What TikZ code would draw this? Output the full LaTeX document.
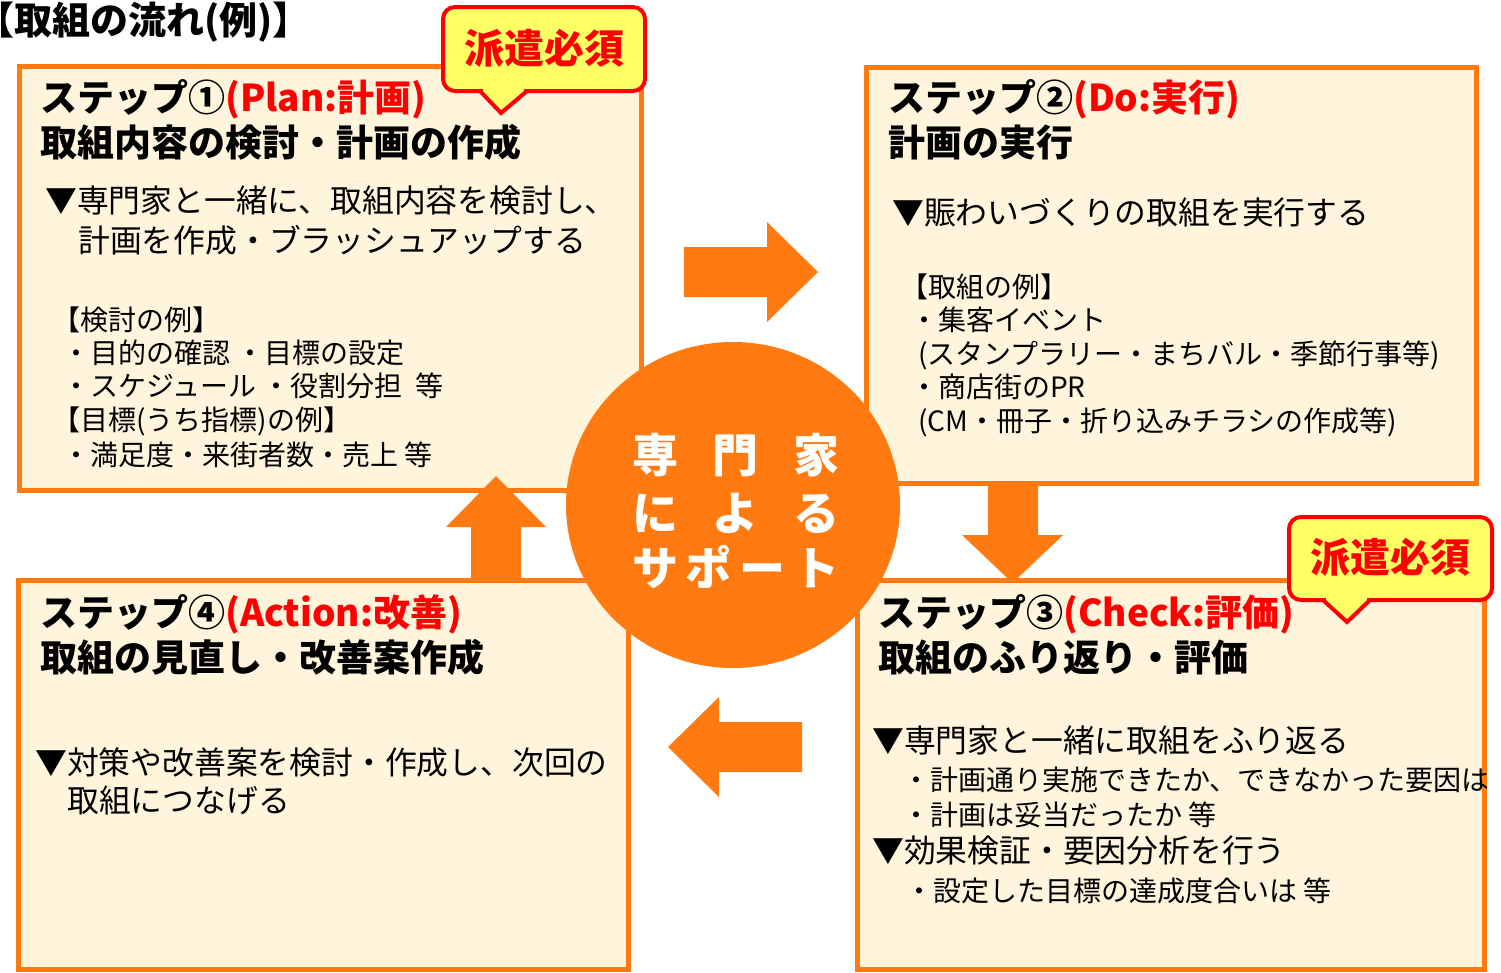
\documentclass[tikz,border=0pt]{standalone}
\usepackage{fontspec}
\setmainfont{Noto Sans CJK JP}
\definecolor{orng}{RGB}{255,122,16}
\definecolor{cream}{RGB}{255,244,220}
\definecolor{callyel}{RGB}{255,255,102}
\definecolor{callred}{RGB}{255,0,0}
\begin{document}
\begin{tikzpicture}[x=1pt,y=-1pt,
  stepbox/.style={draw=orng,line width=5pt,fill=cream},
  blockarrow/.style={fill=orng},
  txt/.style={anchor=base west,inner sep=0pt,text=black},
  hd/.style={txt,font=\fontsize{37}{40}\selectfont\bfseries},
  bd/.style={txt,font=\fontsize{31.8}{36}\selectfont},
  sm/.style={txt,font=\fontsize{28}{30}\selectfont},
  sb/.style={txt,font=\fontsize{28}{32}\selectfont},
  circtxt/.style={anchor=base,inner sep=0pt,text=white,font=\fontsize{46}{50}\selectfont\bfseries},
  calltxt/.style={anchor=base,inner sep=0pt,text=callred,font=\fontsize{40}{44}\selectfont\bfseries},
  callbody/.style={draw=callred,line width=4pt,fill=callyel,rounded corners=12pt}
]
\useasboundingbox (0,0) rectangle (1501,972);
\fill[white] (0,0) rectangle (1501,972);

% title
\node[txt,font=\fontsize{38}{40}\selectfont\bfseries] (title) at (-24,34.5) {【取組の流れ(例)】};

% boxes
\draw[stepbox] (19,66) rectangle (641,490);
\draw[stepbox] (866,67) rectangle (1476,483);
\draw[stepbox] (857,580) rectangle (1484,969);
\draw[stepbox] (18,580) rectangle (628,969);

% arrows
\fill[blockarrow] (684,247) -- (767,247) -- (767,222) -- (818,272) -- (767,322) -- (767,297) -- (684,297) -- cycle;
\fill[blockarrow] (988,484) -- (1038,484) -- (1038,535) -- (1063,535) -- (1012.5,583) -- (962,535) -- (988,535) -- cycle;
\fill[blockarrow] (802,722) -- (719,722) -- (719,697) -- (668,747) -- (719,797) -- (719,772) -- (802,772) -- cycle;
\fill[blockarrow] (471,580) -- (471,527) -- (446,527) -- (496,476) -- (546,527) -- (521,527) -- (521,580) -- cycle;

% center circle
\fill[orng] (733,505) ellipse [x radius=167, y radius=163];
\node[circtxt] (c1) at (736,472) {\makebox[208pt]{専\hfill 門\hfill 家}};
\node[circtxt] (c2) at (736,530) {\makebox[208pt]{に\hfill よ\hfill る}};
\node[circtxt] (c3) at (736,585) {\makebox[208pt]{サ\hfill ポ\hfill ー\hfill ト}};

% box 1
\node[hd] (b1h1) at (40,111) {ステップ①{\color{callred}(Plan:計画)}};
\node[hd] (b1h2) at (40,156) {取組内容の検討・計画の作成};
\node[bd] (b1a) at (45,212) {▼専門家と一緒に、取組内容を検討し、};
\node[bd] (b1b) at (78,252) {計画を作成・ブラッシュアップする};
\node[sm] (b1c) at (52,330) {【検討の例】};
\node[sm] (b1d) at (62,363) {・目的の確認 ・目標の設定};
\node[sm] (b1e) at (62,396) {・スケジュール ・役割分担\ \ 等};
\node[sm] (b1f) at (52,430) {【目標(うち指標)の例】};
\node[sm] (b1g) at (62,465) {・満足度・来街者数・売上 等};

% box 2
\node[hd] (b2h1) at (888,111) {ステップ②{\color{callred}(Do:実行)}};
\node[hd] (b2h2) at (888,156) {計画の実行};
\node[bd] (b2a) at (892,224) {▼賑わいづくりの取組を実行する};
\node[sm] (b2b) at (900,297) {【取組の例】};
\node[sm] (b2c) at (910,330) {・集客イベント};
\node[sm] (b2d) at (918,364) {(スタンプラリー・まちバル・季節行事等)};
\node[sm] (b2e) at (910,397) {・商店街のPR};
\node[sm] (b2f) at (918,431) {(CM・冊子・折り込みチラシの作成等)};

% box 3
\node[hd] (b3h1) at (878,626) {ステップ③{\color{callred}(Check:評価)}};
\node[hd] (b3h2) at (878,671) {取組のふり返り・評価};
\node[bd] (b3a) at (872,752) {▼専門家と一緒に取組をふり返る};
\node[sb] (b3b) at (902,790) {・計画通り実施できたか、できなかった要因は};
\node[sb] (b3c) at (902,825) {・計画は妥当だったか 等};
\node[bd] (b3d) at (872,862) {▼効果検証・要因分析を行う};
\node[sb] (b3e) at (905,901) {・設定した目標の達成度合いは 等};

% box 4
\node[hd] (b4h1) at (40,626) {ステップ④{\color{callred}(Action:改善)}};
\node[hd] (b4h2) at (40,671) {取組の見直し・改善案作成};
\node[bd] (b4a) at (35,774) {▼対策や改善案を検討・作成し、次回の};
\node[bd] (b4b) at (67,812) {取組につなげる};

% callout 1
\draw[callbody] (443,7) rectangle (645,91);
\fill[callyel] (480,91) -- (501,113) -- (527,91) -- cycle;
\fill[callyel] (483,87) rectangle (524,94);
\draw[callred,line width=4pt] (480,91) -- (501,113) -- (527,91);
\node[calltxt] (call1) at (544,63) {派遣必須};

% callout 2
\draw[callbody] (1289,517) rectangle (1492,600);
\fill[callyel] (1323,600) -- (1347,622) -- (1370,600) -- cycle;
\fill[callyel] (1326,596) rectangle (1367,603);
\draw[callred,line width=4pt] (1323,600) -- (1347,622) -- (1370,600);
\node[calltxt] (call2) at (1390,572) {派遣必須};
\end{tikzpicture}
\end{document}
